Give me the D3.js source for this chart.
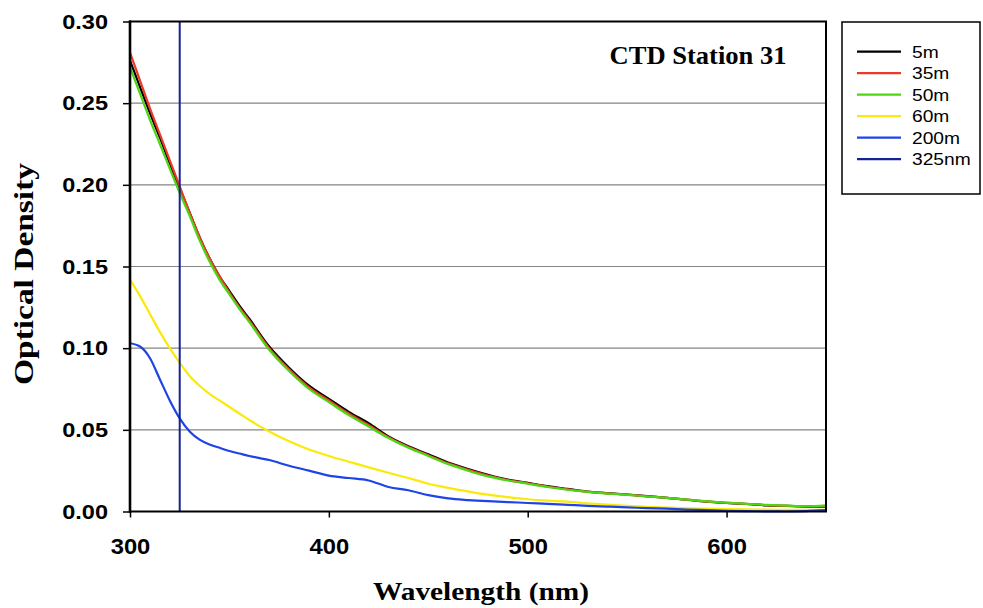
<!DOCTYPE html>
<html>
<head>
<meta charset="utf-8">
<script src="https://cdn.jsdelivr.net/npm/d3@7"></script>
<style>
  body { margin: 0; background: #fff; }
  svg { display: block; }
</style>
</head>
<body>
<svg id="chart" width="983" height="608"></svg>
<script>
// Absorbance spectra of water samples, CTD Station 31
const wavelengths = [300,305,310,315,320,325,330,335,340,345,350,355,360,370,380,390,400,410,420,430,440,450,460,470,480,490,500,510,520,530,540,550,560,570,580,590,600,610,620,630,640,650];

const od5m   = [0.276,0.260,0.244,0.229,0.213,0.198,0.183,0.168,0.155,0.144,0.135,0.126,0.118,0.101,0.088,0.077,0.069,0.061,0.054,0.046,0.040,0.035,0.030,0.026,0.0225,0.0195,0.0175,0.0155,0.0138,0.0122,0.0112,0.0104,0.0094,0.0084,0.0072,0.0060,0.0052,0.0046,0.0038,0.0034,0.0030,0.0028];
const od35m  = [0.281,0.264,0.247,0.231,0.215,0.199,0.183,0.168,0.155,0.144,0.134,0.125,0.117,0.100,0.087,0.076,0.068,0.060,0.053,0.0455,0.0395,0.0345,0.0295,0.0255,0.022,0.0193,0.0173,0.0153,0.0136,0.0121,0.0111,0.0103,0.0093,0.0084,0.0073,0.0061,0.0053,0.0047,0.0039,0.0035,0.0031,0.0030];
const od50m  = [0.272,0.256,0.240,0.225,0.210,0.195,0.181,0.166,0.153,0.142,0.133,0.124,0.116,0.099,0.086,0.075,0.067,0.059,0.052,0.045,0.039,0.034,0.029,0.025,0.0215,0.019,0.017,0.015,0.0133,0.012,0.011,0.0102,0.0092,0.0083,0.0073,0.0062,0.0054,0.0047,0.0040,0.0036,0.0032,0.0038];
const od60m  = [0.142,0.132,0.121,0.110,0.100,0.091,0.083,0.077,0.072,0.068,0.064,0.060,0.056,0.049,0.043,0.038,0.034,0.0305,0.027,0.0237,0.0205,0.017,0.0145,0.0123,0.0103,0.0088,0.0075,0.0066,0.0060,0.0050,0.0042,0.0035,0.0029,0.0024,0.0020,0.0017,0.0015,0.0013,0.0011,0.0010,0.0010,0.0010];
const od200m = [0.103,0.101,0.094,0.081,0.068,0.057,0.049,0.044,0.041,0.039,0.037,0.0355,0.034,0.0315,0.028,0.025,0.022,0.0205,0.019,0.015,0.013,0.010,0.008,0.007,0.0063,0.0058,0.0052,0.0047,0.0041,0.0035,0.0030,0.0025,0.0021,0.0017,0.0012,0.0008,0.0004,0.0002,0.0001,0.0,0.0002,0.0008];

const seriesNames  = ["5m", "35m", "50m", "60m", "200m"];
const seriesValues = [od5m, od35m, od50m, od60m, od200m];
const seriesColors = ["#000000", "#ec3a26", "#4cd614", "#fbe90a", "#1f44e6"];

const markerWavelength = 325;
const markerLabel = "325nm";
const markerColor = "#142296";

const yTicks = [0.00, 0.05, 0.10, 0.15, 0.20, 0.25, 0.30];
const xTicks = [300, 400, 500, 600];
const chartTitle = "CTD Station 31";
const xTitle = "Wavelength (nm)";
const yTitle = "Optical Density";

const svg = d3.select("#chart");
const plot = { left: 130, right: 826, top: 21.5, bottom: 511.5 };

const x = d3.scaleLinear().domain([300, 650]).range([plot.left, plot.right]);
const y = d3.scaleLinear().domain([0, 0.30]).range([plot.bottom, plot.top]);

// widen glyphs horizontally by a factor
function stretch(sel, k) {
  sel.each(function () {
    const n = this.getComputedTextLength();
    d3.select(this).attr("textLength", n * k).attr("lengthAdjust", "spacingAndGlyphs");
  });
}

svg.append("rect").attr("width", 983).attr("height", 608).attr("fill", "#fff");

// horizontal gridlines
svg.append("g")
  .selectAll("line")
  .data(yTicks.filter(d => d > 0 && d < 0.30))
  .join("line")
  .attr("x1", plot.left).attr("x2", plot.right)
  .attr("y1", d => y(d)).attr("y2", d => y(d))
  .attr("stroke", "#858585").attr("stroke-width", 1.2);

// y axis
const yAxis = svg.append("g")
  .attr("transform", `translate(${plot.left},0)`)
  .call(d3.axisLeft(y).tickValues(yTicks).tickFormat(d3.format(".2f")).tickSize(7).tickSizeOuter(0).tickPadding(15));
yAxis.select(".domain").remove();
yAxis.selectAll(".tick line").attr("stroke", "#000").attr("stroke-width", 1.5);
yAxis.selectAll(".tick text")
  .attr("font-family", "'Liberation Sans', Arial, sans-serif")
  .attr("font-weight", "bold").attr("font-size", 21).attr("fill", "#000")
  .call(stretch, 1.12);

// x axis
const xAxis = svg.append("g")
  .attr("transform", `translate(0,${plot.bottom})`)
  .call(d3.axisBottom(x).tickValues(xTicks).tickFormat(d3.format("d")).tickSize(6).tickSizeOuter(0).tickPadding(21));
xAxis.select(".domain").remove();
xAxis.selectAll(".tick line").attr("stroke", "#000").attr("stroke-width", 1.5);
xAxis.selectAll(".tick text")
  .attr("font-family", "'Liberation Sans', Arial, sans-serif")
  .attr("font-weight", "bold").attr("font-size", 22).attr("fill", "#000")
  .call(stretch, 1.08);

// spectra
const line = d3.line()
  .x((d, i) => x(wavelengths[i]))
  .y(d => y(d))
  .curve(d3.curveMonotoneX);

svg.append("g")
  .selectAll("path")
  .data(seriesValues)
  .join("path")
  .attr("d", d => line(d))
  .attr("fill", "none")
  .attr("stroke", (d, i) => seriesColors[i])
  .attr("stroke-width", 2.2)
  .attr("stroke-linejoin", "round");

// 325 nm reference line
svg.append("line")
  .attr("x1", x(markerWavelength)).attr("x2", x(markerWavelength))
  .attr("y1", y(0)).attr("y2", y(0.30))
  .attr("stroke", markerColor).attr("stroke-width", 2);

// plot frame
svg.append("rect")
  .attr("x", plot.left).attr("y", plot.top)
  .attr("width", plot.right - plot.left).attr("height", plot.bottom - plot.top)
  .attr("fill", "none").attr("stroke", "#000").attr("stroke-width", 2);
svg.append("line")
  .attr("x1", plot.left).attr("x2", plot.left)
  .attr("y1", plot.top - 1).attr("y2", plot.bottom + 1)
  .attr("stroke", "#000").attr("stroke-width", 2.6);

// chart title
svg.append("text")
  .attr("x", 698).attr("y", 64)
  .attr("text-anchor", "middle")
  .attr("font-family", "'Liberation Serif', 'Times New Roman', serif")
  .attr("font-weight", "bold").attr("font-size", 26).attr("fill", "#000")
  .attr("textLength", 177).attr("lengthAdjust", "spacingAndGlyphs")
  .text(chartTitle);

// axis titles
svg.append("text")
  .attr("x", 481).attr("y", 600)
  .attr("text-anchor", "middle")
  .attr("font-family", "'Liberation Serif', 'Times New Roman', serif")
  .attr("font-weight", "bold").attr("font-size", 26).attr("fill", "#000")
  .attr("textLength", 216).attr("lengthAdjust", "spacingAndGlyphs")
  .text(xTitle);

svg.append("text")
  .attr("transform", "translate(33,274) rotate(-90)")
  .attr("text-anchor", "middle")
  .attr("font-family", "'Liberation Serif', 'Times New Roman', serif")
  .attr("font-weight", "bold").attr("font-size", 27).attr("fill", "#000")
  .attr("textLength", 222).attr("lengthAdjust", "spacingAndGlyphs")
  .text(yTitle);

// legend
const legendNames = seriesNames.concat([markerLabel]);
const legendColors = seriesColors.concat([markerColor]);
const legend = svg.append("g");
legend.append("rect")
  .attr("x", 842).attr("y", 22).attr("width", 138).attr("height", 172)
  .attr("fill", "#fff").attr("stroke", "#000").attr("stroke-width", 1.5);
const rows = legend.selectAll("g.row")
  .data(legendNames)
  .join("g")
  .attr("class", "row")
  .attr("transform", (d, i) => `translate(0,${51.7 + i * 21.5})`);
rows.append("line")
  .attr("x1", 857).attr("x2", 901)
  .attr("stroke", (d, i) => legendColors[i]).attr("stroke-width", 2.2);
rows.append("text")
  .attr("x", 912).attr("y", 6)
  .attr("font-family", "'Liberation Sans', Arial, sans-serif")
  .attr("font-size", 16).attr("fill", "#000")
  .text(d => d)
  .call(stretch, 1.2);
</script>
</body>
</html>
